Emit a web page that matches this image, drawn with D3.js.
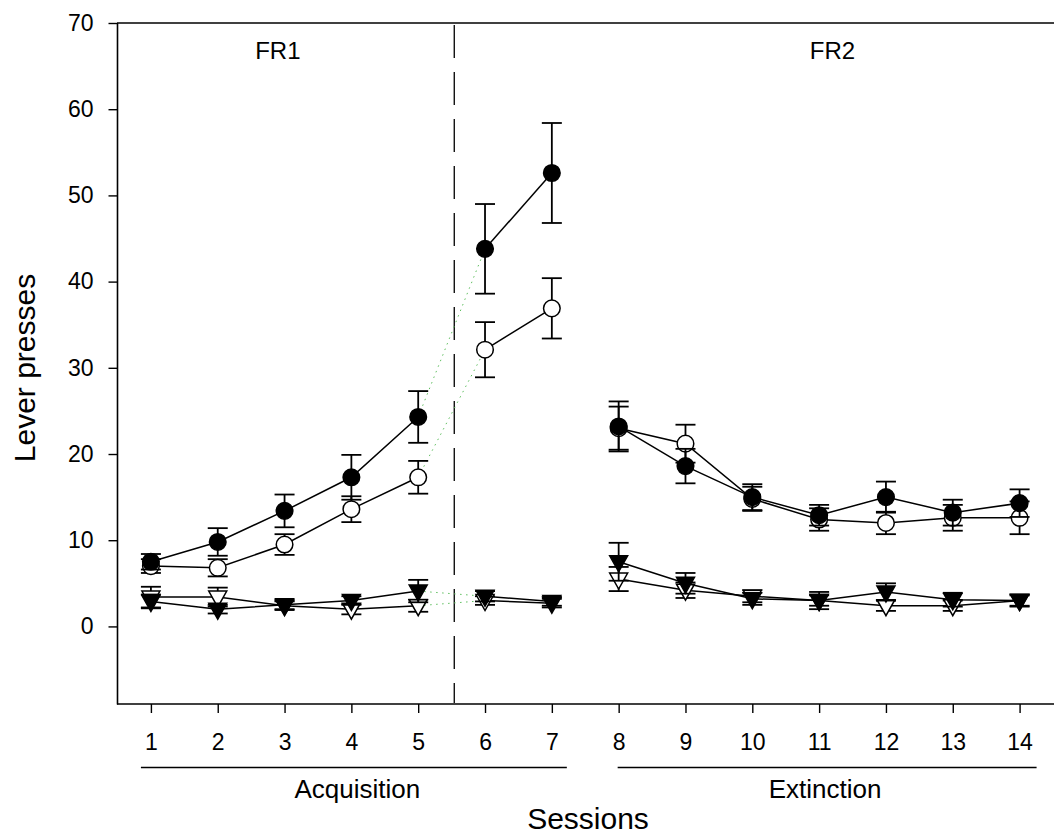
<!DOCTYPE html>
<html>
<head>
<meta charset="utf-8">
<script src="https://cdn.jsdelivr.net/npm/d3@7"></script>
<style>
  html,body{margin:0;padding:0;background:#fff;}
  text{font-family:"Liberation Sans",Arial,sans-serif;fill:#000;}
</style>
</head>
<body>
<div id="chart"></div>
<script>
const sessions=[1,2,3,4,5,6,7,8,9,10,11,12,13,14];
const yTicks=[0,10,20,30,40,50,60,70];
// filled circles
const fcMean=[7.5,9.8,13.4,17.3,24.3,43.8,52.6,23.2,18.6,15.0,12.9,15.0,13.2,14.3];
const fcErr=[0.9,1.6,1.9,2.6,3.0,5.2,5.8,2.9,2.0,1.5,1.2,1.8,1.5,1.6];
// open circles
const ocMean=[7.0,6.8,9.5,13.6,17.3,32.1,36.9,23.0,21.2,14.8,12.4,12.0,12.6,12.6];
const ocErr=[0.8,1.0,1.2,1.5,1.9,3.2,3.5,2.5,2.2,1.4,1.3,1.3,1.5,1.9];
// filled triangles
const ftMean=[2.9,2.0,2.5,3.0,4.1,3.5,2.9,7.5,5.0,3.2,3.0,4.0,3.1,3.0];
const ftErr=[0.8,0.5,0.5,0.5,1.3,0.6,0.5,2.2,1.2,0.7,1.0,1.0,0.8,0.7];
// open triangles
const otMean=[3.4,3.4,2.4,2.0,2.4,3.0,2.7,5.5,4.2,3.5,3.0,2.4,2.4,3.0];
const otErr=[1.2,1.1,0.5,0.6,0.7,0.5,0.5,1.4,0.9,0.7,0.6,0.6,0.6,0.6];
const segments=[[1,5],[6,7],[8,14]];
const bridges=[[5,6]];
const phases=[{label:"Acquisition",from:1,to:7},{label:"Extinction",from:8,to:14}];
const schedules=[{label:"FR1",at:2.9},{label:"FR2",at:11.2}];
const phaseSplit=5.54;

const W=1054,H=835;
const svg=d3.select("#chart").append("svg").attr("width",W).attr("height",H);
const x=d3.scaleLinear().domain([0.5,14.5]).range([117.5,1053]);
const y=d3.scaleLinear().domain([-9,70]).range([704,23]);

// frame
svg.append("line").attr("x1",117.5).attr("x2",117.5).attr("y1",23).attr("y2",704.5).attr("stroke","#000").attr("stroke-width",1.6);
svg.append("line").attr("x1",117).attr("x2",W).attr("y1",23).attr("y2",23).attr("stroke","#000").attr("stroke-width",1.6);
svg.append("line").attr("x1",117).attr("x2",W).attr("y1",704).attr("y2",704).attr("stroke","#000").attr("stroke-width",1.6);

svg.append("g").attr("transform","translate(117.5,0)")
  .call(d3.axisLeft(y).tickValues(yTicks).tickSize(9).tickPadding(15))
  .call(s=>s.select(".domain").remove())
  .call(s=>s.selectAll("line").attr("stroke","#000").attr("stroke-width",1.4))
  .call(s=>s.selectAll("text").attr("font-size",23).attr("font-family","Liberation Sans,Arial,sans-serif"));

svg.append("g").attr("transform","translate(0,704)")
  .call(d3.axisBottom(x).tickValues(sessions).tickFormat(d3.format("d")).tickSize(9).tickPadding(21))
  .call(s=>s.select(".domain").remove())
  .call(s=>s.selectAll("line").attr("stroke","#000").attr("stroke-width",1.4))
  .call(s=>s.selectAll("text").attr("font-size",23).attr("font-family","Liberation Sans,Arial,sans-serif"));

// phase divider
svg.append("line").attr("x1",x(phaseSplit)).attr("x2",x(phaseSplit)).attr("y1",25).attr("y2",703)
  .attr("stroke","#111").attr("stroke-width",1.4).attr("stroke-dasharray","33 14");

svg.selectAll(".sched").data(schedules).join("text")
  .attr("x",d=>x(d.at)).attr("y",58.5).attr("text-anchor","middle").attr("font-size",24).text(d=>d.label);

// phase underlines + labels
const linePad=[[10,15],[1,17]];
svg.selectAll(".phaseLine").data(phases).join("line")
  .attr("x1",(d,i)=>x(d.from)-linePad[i][0]).attr("x2",(d,i)=>x(d.to)+linePad[i][1]).attr("y1",767.5).attr("y2",767.5)
  .attr("stroke","#000").attr("stroke-width",1.4);
svg.selectAll(".phaseLabel").data(phases).join("text")
  .attr("x",d=>(x(d.from)+x(d.to))/2+6).attr("y",798).attr("text-anchor","middle").attr("font-size",26).text(d=>d.label);

svg.append("text").attr("x",588).attr("y",829).attr("text-anchor","middle").attr("font-size",30).text("Sessions");
svg.append("text").attr("transform","translate(34.5,368) rotate(-90)").attr("text-anchor","middle").attr("font-size",30).text("Lever presses");

const series=[
  {mean:otMean,err:otErr,shape:"tri",fill:"#fff"},
  {mean:ftMean,err:ftErr,shape:"tri",fill:"#000"},
  {mean:ocMean,err:ocErr,shape:"circle",fill:"#fff"},
  {mean:fcMean,err:fcErr,shape:"circle",fill:"#000"}
];
const pts=s=>sessions.map((d,i)=>({s:d,v:s.mean[i],e:s.err[i]}));
const line=d3.line().x(d=>x(d.s)).y(d=>y(d.v));

// green dotted bridges
series.forEach(s=>{
  const p=pts(s);
  bridges.forEach(([a,b])=>{
    svg.append("path").attr("d",line(p.filter(d=>d.s===a||d.s===b)))
      .attr("fill","none").attr("stroke","#5fbf5f").attr("stroke-width",1).attr("stroke-dasharray","1.5 4.5");
  });
});

const tri="M-9,-6L9,-6L0,10Z";
series.forEach(s=>{
  const p=pts(s);
  const g=svg.append("g");
  segments.forEach(([a,b])=>{
    g.append("path").attr("d",line(p.filter(d=>d.s>=a&&d.s<=b)))
      .attr("fill","none").attr("stroke","#000").attr("stroke-width",1.5);
  });
  const eb=g.selectAll(".eb").data(p).join("g");
  eb.append("line").attr("x1",d=>x(d.s)).attr("x2",d=>x(d.s)).attr("y1",d=>y(d.v+d.e)).attr("y2",d=>y(d.v-d.e))
    .attr("stroke","#000").attr("stroke-width",1.8);
  eb.append("line").attr("x1",d=>x(d.s)-10).attr("x2",d=>x(d.s)+10).attr("y1",d=>y(d.v+d.e)).attr("y2",d=>y(d.v+d.e))
    .attr("stroke","#000").attr("stroke-width",1.8);
  eb.append("line").attr("x1",d=>x(d.s)-10).attr("x2",d=>x(d.s)+10).attr("y1",d=>y(d.v-d.e)).attr("y2",d=>y(d.v-d.e))
    .attr("stroke","#000").attr("stroke-width",1.8);
  if(s.shape==="circle"){
    g.selectAll(".m").data(p).join("circle").attr("cx",d=>x(d.s)).attr("cy",d=>y(d.v)).attr("r",8.3)
      .attr("fill",s.fill).attr("stroke","#000").attr("stroke-width",1.5);
  }else{
    g.selectAll(".m").data(p).join("path").attr("d",tri).attr("transform",d=>`translate(${x(d.s)},${y(d.v)})`)
      .attr("fill",s.fill).attr("stroke","#000").attr("stroke-width",1.5).attr("stroke-linejoin","miter");
  }
});
</script>
</body>
</html>
